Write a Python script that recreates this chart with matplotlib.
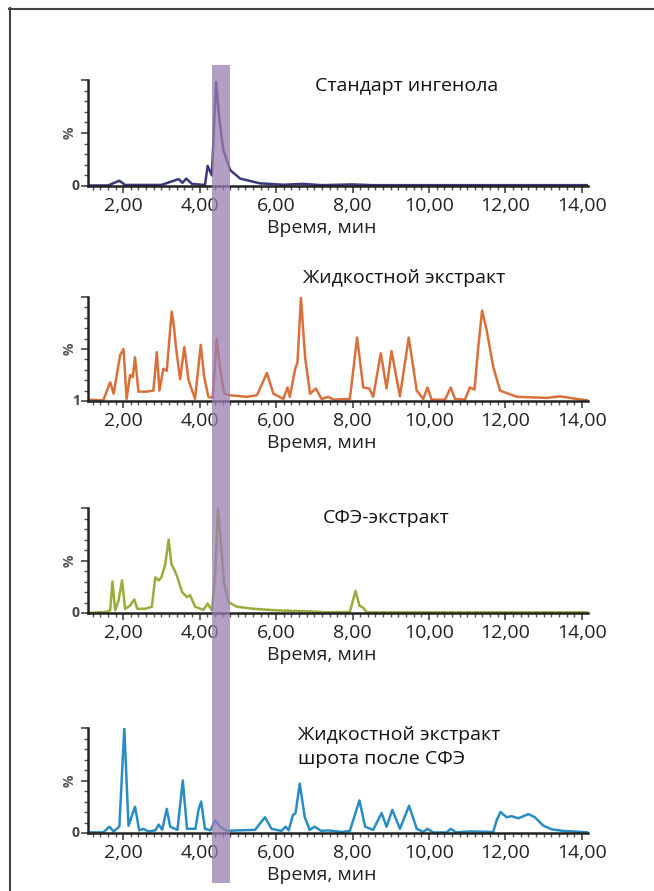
import numpy as np
import matplotlib
matplotlib.use("Agg")
import matplotlib.pyplot as plt
from matplotlib.ticker import MultipleLocator, FixedLocator
from matplotlib.patches import Rectangle
from matplotlib.lines import Line2D

plt.rcParams['font.family'] = ['Open Sans', 'DejaVu Sans']

# --- data (retention time, min ; relative intensity, %) ---
std_t = [1.09, 1.60, 1.90, 2.05, 2.30, 3.00, 3.45, 3.55, 3.65, 3.80, 4.14, 4.21, 4.32,
         4.43, 4.52, 4.62, 4.80, 5.06, 5.58, 6.20, 6.70, 7.20, 8.00, 8.50, 14.16]
std_y = [0.5, 0.5, 5, 1, 1, 1, 6.5, 3, 7, 2, 1, 19, 10,
         98, 62, 34, 15, 7, 2.5, 1.2, 2, 0.8, 1.5, 0.8, 0.8]

liq_t = [1.09, 1.48, 1.66, 1.75, 1.92, 2.01, 2.09, 2.18, 2.25, 2.31, 2.40, 2.62, 2.79,
         2.88, 2.95, 3.05, 3.14, 3.27, 3.33, 3.38, 3.49, 3.60, 3.71, 3.88, 4.03, 4.12,
         4.23, 4.34, 4.45, 4.53, 4.64, 4.80, 5.23, 5.50, 5.58, 5.76, 5.93, 6.19, 6.30,
         6.36, 6.50, 6.56, 6.65, 6.76, 6.89, 7.04, 7.19, 7.37, 7.50, 7.93, 8.12, 8.28,
         8.44, 8.54, 8.74, 8.89, 9.02, 9.24, 9.47, 9.68, 9.85, 9.96, 10.07, 10.42, 10.57,
         10.68, 10.94, 11.07, 11.19, 11.29, 11.39, 11.51, 11.68, 11.86, 12.30, 13.08,
         13.43, 13.86, 14.16]
liq_y = [1.3, 0.6, 18, 7, 44, 50, 2, 25, 23, 42, 9, 9, 10,
         47, 10, 31, 29, 86, 71, 52, 21, 52, 20, 2, 54, 23,
         4, 3, 60, 33, 7, 5.5, 4, 5.5, 12, 27, 7, 2, 13,
         4, 31, 37, 99, 42, 7, 12, 2, 4, 1.3, 2, 61, 13,
         12, 4, 46, 12, 48, 4.5, 61, 10, 2, 13, 1.3, 1.3, 13,
         2, 1.3, 13, 11, 52, 87, 68, 33, 10, 4, 3,
         4.5, 2, 0.6]

sfe_t = [1.09, 1.57, 1.66, 1.72, 1.79, 1.88, 1.97, 2.05, 2.18, 2.29, 2.37, 2.58, 2.75,
         2.84, 2.93, 3.00, 3.10, 3.19, 3.26, 3.34, 3.41, 3.54, 3.67, 3.75, 3.88, 4.10,
         4.21, 4.32, 4.41, 4.48, 4.56, 4.64, 4.75, 4.97, 5.41, 6.02, 6.89, 7.32, 7.93,
         8.08, 8.18, 8.28, 8.37, 9.50, 14.16]
sfe_y = [0, 1, 2.5, 30, 2.5, 12, 31, 4, 7, 13, 4, 4, 6,
         34, 31, 34, 46, 70, 47, 41, 35, 20, 15, 17, 6, 3,
         9, 2.5, 38, 99, 66, 28, 10.5, 6, 4, 2.5, 1.5, 0.6, 1,
         21, 7, 5, 0.6, 0.6, 0.6]

meal_t = [1.09, 1.48, 1.64, 1.75, 1.90, 2.03, 2.14, 2.31, 2.42, 2.53, 2.66, 2.84, 2.93,
          3.02, 3.14, 3.23, 3.42, 3.56, 3.67, 3.89, 3.97, 4.04, 4.14, 4.28, 4.41, 4.54,
          4.71, 5.01, 5.45, 5.58, 5.71, 5.88, 6.14, 6.25, 6.33, 6.44, 6.51, 6.62, 6.75,
          6.88, 7.01, 7.18, 7.36, 7.71, 7.93, 8.18, 8.33, 8.54, 8.76, 8.89, 9.04, 9.24,
          9.48, 9.68, 9.85, 9.96, 10.11, 10.46, 10.57, 10.71, 11.07, 11.68, 11.77, 11.87,
          12.03, 12.16, 12.34, 12.60, 12.77, 12.99, 13.21, 13.51, 14.16]
meal_y = [0.6, 0.6, 6, 1.5, 6, 100, 7, 25, 2.5, 4, 1.5, 2.5, 8,
          3, 23, 6, 3, 50, 4, 4, 22, 30, 4, 2.5, 12, 6,
          2, 2.5, 3, 9, 15, 4, 2, 6, 2.5, 17, 19, 47, 15,
          3, 6, 2, 2.5, 1, 2, 31, 6, 3, 19, 6, 22, 4,
          26, 4, 1, 4, 0.5, 0.5, 4, 0.6, 1.5, 1, 12, 20,
          15, 16, 14, 18, 15, 7, 3.5, 2, 0.6]

titles = ["Стандарт ингенола", "Жидкостной экстракт", "СФЭ-экстракт",
          "Жидкостной экстракт\nшрота после СФЭ"]
colors = ["#3a3a7a", "#d8703c", "#9bab3c", "#2a8dc2"]
zero_labels = ["0", "1", "0", "0"]
xticks = [2, 4, 6, 8, 10, 12, 14]
xtick_labels = ["2,00", "4,00", "6,00", "8,00", "10,00", "12,00", "14,00"]

series = [(std_t, std_y), (liq_t, liq_y), (sfe_t, sfe_y), (meal_t, meal_y)]

W, H = 654, 891
fig = plt.figure(figsize=(W / 100, H / 100), dpi=100)

# axes boxes in pixels: (top, bottom)
boxes = [(80, 186), (297, 401), (508, 613), (728, 833)]
left, right = 88, 588
title_pos = [(407, 86, "center"), (404, 278, "center"), (386, 518, "center"), (298, 747, "left")]

for i, ((t, y), (top, bot)) in enumerate(zip(series, boxes)):
    ax = fig.add_axes([left / W, 1 - bot / H, (right - left) / W, (bot - top) / H])
    ax.plot(t, y, color=colors[i], lw=1.8, solid_joinstyle="round")
    ax.set_xlim(1.08, 14.16)
    ax.set_ylim(0, 100)
    ax.patch.set_alpha(0)
    for s in ["top", "right"]:
        ax.spines[s].set_visible(False)
    for s in ["left", "bottom"]:
        ax.spines[s].set_linewidth(1.8)
        ax.spines[s].set_color("#222222")
    ax.xaxis.set_major_locator(FixedLocator(xticks))
    ax.set_xticklabels(xtick_labels)
    ax.xaxis.set_minor_locator(MultipleLocator(0.2))
    ax.yaxis.set_major_locator(FixedLocator([0, 50, 100]))
    ax.yaxis.set_minor_locator(MultipleLocator(10))
    ax.set_yticklabels([])
    ax.tick_params(axis="x", which="major", length=5, width=1.2, color="#444444",
                   labelsize=14, labelcolor="#222222", pad=3)
    ax.tick_params(axis="x", which="minor", length=3, width=1.0, color="#555555")
    ax.tick_params(axis="y", which="major", length=5, width=1.2, color="#444444")
    ax.tick_params(axis="y", which="minor", length=3, width=1.0, color="#555555")
    ax.set_xlabel("Время, мин", fontsize=14, color="#222222")
    ax.xaxis.set_label_coords(0.468, -42 / (bot - top))
    ax.xaxis.label.set_va("center")
    ax.annotate(zero_labels[i], xy=(0, 0), xycoords="axes fraction", xytext=(-12, 0),
                textcoords="offset pixels", ha="center", va="center",
                fontsize=10, fontweight="bold", color="#444444")
    ax.annotate("%", xy=(0, 0.5), xycoords="axes fraction", xytext=(-18, 0),
                textcoords="offset pixels", ha="center", va="center", rotation=90,
                fontsize=10, fontweight="bold", color="#555555")
    tx, ty, ha = title_pos[i]
    fig.text(tx / W, 1 - ty / H, titles[i], ha=ha, va="center", fontsize=14,
             color="#111111", linespacing=1.45)

# highlighted retention window
band = Rectangle((212 / W, 1 - 883 / H), 18 / W, (883 - 65) / H,
                 transform=fig.transFigure, facecolor="#9a7eb0", alpha=0.75,
                 edgecolor="none", zorder=5)
fig.add_artist(band)

# outer frame
fig.add_artist(Line2D([9.5 / W, 9.5 / W], [1 - 8 / H, 0], transform=fig.transFigure,
                      color="#444444", lw=1.5))
fig.add_artist(Line2D([9 / W, 1], [1 - 8.5 / H, 1 - 8.5 / H], transform=fig.transFigure,
                      color="#444444", lw=1.5))

fig.savefig("out.png", dpi=100, facecolor="white")
